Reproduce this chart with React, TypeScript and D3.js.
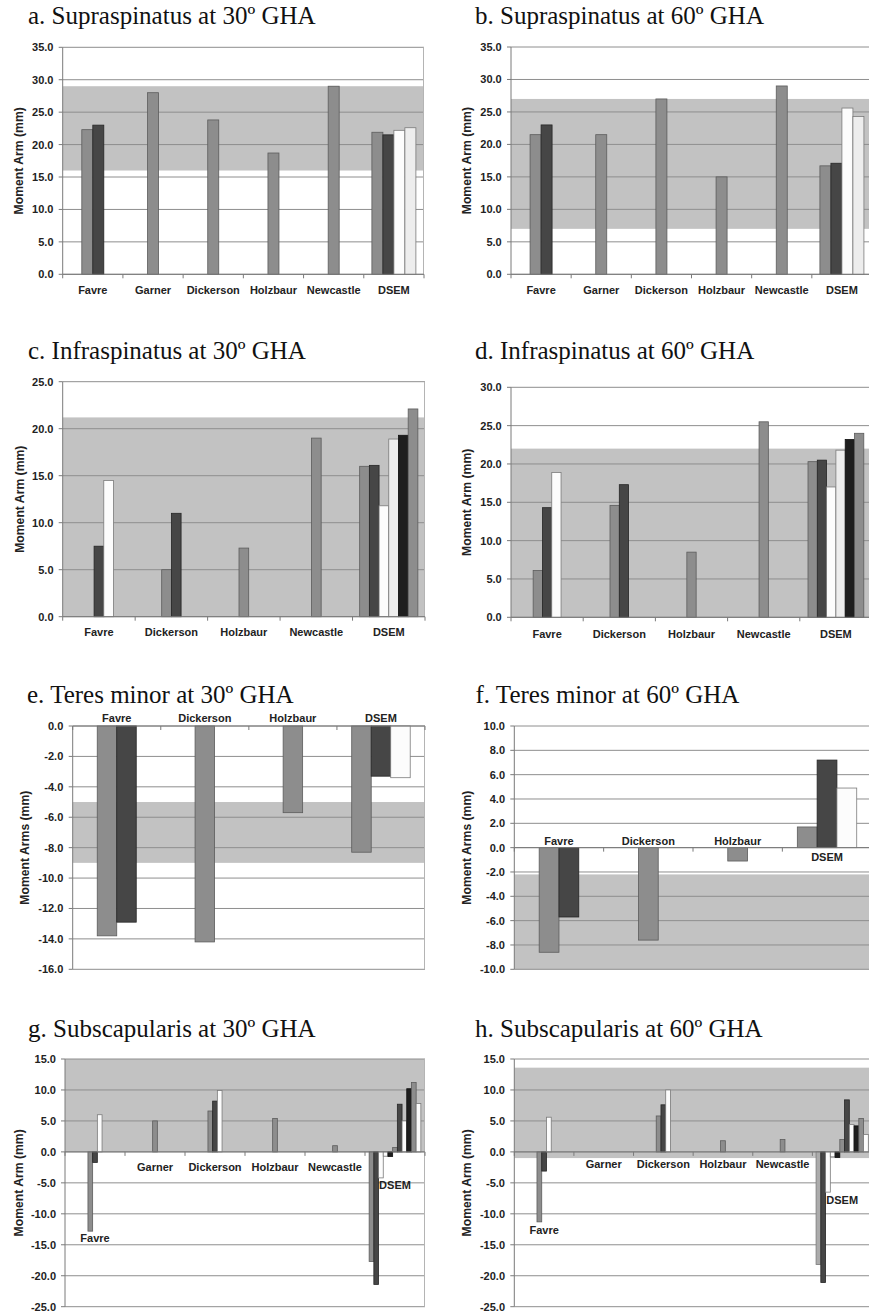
import React from "react";
import * as d3 from "d3";

const W = 869;
const H = 1314;

// ---------- data ----------
// a. Supraspinatus 30
const catsA = ["Favre", "Garner", "Dickerson", "Holzbaur", "Newcastle", "DSEM"];
const valsA: (number | null)[][] = [[22.3, 23.0], [28.0], [23.8], [18.7], [29.0], [21.9, 21.5, 22.2, 22.6]];
const keysA = [["G", "D"], ["G"], ["G"], ["G"], ["G"], ["G", "D", "W", "L"]];
const bandA = [16, 29];
const ticksA = [0, 35, 5];

// b. Supraspinatus 60
const catsB = ["Favre", "Garner", "Dickerson", "Holzbaur", "Newcastle", "DSEM"];
const valsB: (number | null)[][] = [[21.5, 23.0], [21.5], [27.0], [15.0], [29.0], [16.7, 17.1, 25.6, 24.3]];
const keysB = [["G", "D"], ["G"], ["G"], ["G"], ["G"], ["G", "D", "W", "L"]];
const bandB = [7, 27];
const ticksB = [0, 35, 5];

// c. Infraspinatus 30
const catsC = ["Favre", "Dickerson", "Holzbaur", "Newcastle", "DSEM"];
const valsC: (number | null)[][] = [[null, 7.5, 14.5], [5.0, 11.0], [7.3], [19.0], [16.0, 16.1, 11.8, 18.9, 19.3, 22.1]];
const keysC = [["G", "D", "W"], ["G", "D"], ["G"], ["G"], ["G", "D", "W", "L", "K", "G"]];
const bandC = [0, 21.2];
const ticksC = [0, 25, 5];

// d. Infraspinatus 60
const catsD = ["Favre", "Dickerson", "Holzbaur", "Newcastle", "DSEM"];
const valsD: (number | null)[][] = [[6.1, 14.3, 18.9], [14.6, 17.3], [8.5], [25.5], [20.3, 20.5, 17.0, 21.8, 23.2, 24.0]];
const keysD = [["G", "D", "W"], ["G", "D"], ["G"], ["G"], ["G", "D", "W", "L", "K", "G"]];
const bandD = [0, 22];
const ticksD = [0, 30, 5];

// e. Teres minor 30
const catsE = ["Favre", "Dickerson", "Holzbaur", "DSEM"];
const valsE: (number | null)[][] = [[-13.8, -12.9], [-14.2], [-5.7], [-8.3, -3.3, -3.4]];
const keysE = [["G", "D"], ["G"], ["G"], ["G", "D", "W"]];
const bandE = [-9, -5];
const ticksE = [-16, 0, 2];

// f. Teres minor 60
const catsF = ["Favre", "Dickerson", "Holzbaur", "DSEM"];
const valsF: (number | null)[][] = [[-8.6, -5.7], [-7.6], [-1.1], [1.7, 7.2, 4.9]];
const keysF = [["G", "D"], ["G"], ["G"], ["G", "D", "W"]];
const bandF = [-10, -2.2];
const ticksF = [-10, 10, 2];

// g. Subscapularis 30
const catsG = ["Favre", "Garner", "Dickerson", "Holzbaur", "Newcastle", "DSEM"];
const valsG: (number | null)[][] = [
  [-12.8, -1.7, 6.0],
  [5.0],
  [6.6, 8.2, 9.9],
  [5.4],
  [1.0],
  [-17.7, -21.4, -4.2, -0.7, -0.75, 0.7, 7.7, 5.0, 10.2, 11.2, 7.8],
];
const keysG = [["G", "D", "W"], ["G"], ["G", "D", "W"], ["G"], ["G"], ["G", "D", "W", "W", "K", "G", "D", "W", "K", "G", "W"]];
const bandG = [0, 15];
const ticksG = [-25, 15, 5];

// h. Subscapularis 60
const catsH = ["Favre", "Garner", "Dickerson", "Holzbaur", "Newcastle", "DSEM"];
const valsH: (number | null)[][] = [
  [-11.3, -3.1, 5.6],
  [],
  [5.8, 7.6, 10.0],
  [1.8],
  [2.0],
  [-18.2, -21.1, -6.5, -0.8, -0.9, 2.0, 8.4, 4.4, 4.2, 5.4, 2.8],
];
const keysH = [["G", "D", "W"], [], ["G", "D", "W"], ["G"], ["G"], ["P", "D", "W", "W", "K", "G", "D", "W", "K", "G", "W"]];
const bandH = [-1.0, 13.6];
const ticksH = [-25, 15, 5];

// ---------- styles ----------
const FILL: Record<string, string> = {
  G: "#8d8d8d",
  D: "#464646",
  W: "#fcfcfc",
  L: "#ededed",
  K: "#1e1e1e",
  P: "#ababab",
};
const STROKE: Record<string, string> = {
  G: "#5c5c5c",
  D: "#262626",
  W: "#7a7a7a",
  L: "#7a7a7a",
  K: "#111111",
  P: "#7a7a7a",
};

const SANS = "'Liberation Sans', Arial, Helvetica, sans-serif";
const SERIF = "'Liberation Serif', 'Times New Roman', serif";

type PanelCfg = {
  title: string;
  titleX: number;
  titleY: number;
  x0: number;
  x1: number;
  yTop: number;
  yBot: number;
  tickSpec: number[];
  band: number[];
  cats: string[];
  vals: (number | null)[][];
  keys: string[][];
  barW: number;
  yTitle: string;
  yTitleX: number;
  tickRight: number;
  labelAt: number[];
  rightBorder: boolean;
};

const panels: PanelCfg[] = [
  {
    title: "a. Supraspinatus at 30º GHA", titleX: 28, titleY: 24,
    x0: 62.7, x1: 424, yTop: 47.3, yBot: 274.3, tickSpec: ticksA, band: bandA,
    cats: catsA, vals: valsA, keys: keysA, barW: 11, yTitle: "Moment Arm (mm)",
    yTitleX: 18.5, tickRight: 53.5, labelAt: [-2.4, -2.4, -2.4, -2.4, -2.4, -2.4], rightBorder: true,
  },
  {
    title: "b. Supraspinatus at 60º GHA", titleX: 475, titleY: 24,
    x0: 511, x1: 872, yTop: 47, yBot: 274.3, tickSpec: ticksB, band: bandB,
    cats: catsB, vals: valsB, keys: keysB, barW: 11, yTitle: "Moment Arm (mm)",
    yTitleX: 466.7, tickRight: 501.7, labelAt: [-2.4, -2.4, -2.4, -2.4, -2.4, -2.4], rightBorder: true,
  },
  {
    title: "c. Infraspinatus at 30º GHA", titleX: 28, titleY: 359,
    x0: 62.7, x1: 425, yTop: 381.7, yBot: 616.7, tickSpec: ticksC, band: bandC,
    cats: catsC, vals: valsC, keys: keysC, barW: 9.7, yTitle: "Moment Arm (mm)",
    yTitleX: 19.5, tickRight: 53.5, labelAt: [-1.6, -1.6, -1.6, -1.6, -1.6], rightBorder: true,
  },
  {
    title: "d. Infraspinatus at 60º GHA", titleX: 475, titleY: 359,
    x0: 511, x1: 872, yTop: 387.3, yBot: 617.3, tickSpec: ticksD, band: bandD,
    cats: catsD, vals: valsD, keys: keysD, barW: 9.3, yTitle: "Moment Arm (mm)",
    yTitleX: 466.7, tickRight: 501.7, labelAt: [-2.2, -2.2, -2.2, -2.2, -2.2], rightBorder: true,
  },
  {
    title: "e. Teres minor at 30º GHA", titleX: 27, titleY: 702.5,
    x0: 72.7, x1: 425, yTop: 726, yBot: 969.3, tickSpec: ticksE, band: bandE,
    cats: catsE, vals: valsE, keys: keysE, barW: 19.5, yTitle: "Moment Arms (mm)",
    yTitleX: 25, tickRight: 63.3, labelAt: [0.5, 0.5, 0.5, 0.5], rightBorder: true,
  },
  {
    title: "f. Teres minor at 60º GHA", titleX: 475.5, titleY: 702.5,
    x0: 514.3, x1: 871.7, yTop: 726, yBot: 969.3, tickSpec: ticksF, band: bandF,
    cats: catsF, vals: valsF, keys: keysF, barW: 19.8, yTitle: "Moment Arms (mm)",
    yTitleX: 466.7, tickRight: 505, labelAt: [0.55, 0.55, 0.55, -0.8], rightBorder: true,
  },
  {
    title: "g. Subscapularis at 30º GHA", titleX: 28, titleY: 1036.5,
    x0: 65, x1: 425, yTop: 1059, yBot: 1306.7, tickSpec: ticksG, band: bandG,
    cats: catsG, vals: valsG, keys: keysG, barW: 4.7, yTitle: "Moment Arm (mm)",
    yTitleX: 18.5, tickRight: 56, labelAt: [-13.9, -2.4, -2.4, -2.4, -2.4, -5.4], rightBorder: true,
  },
  {
    title: "h. Subscapularis at 60º GHA", titleX: 475, titleY: 1036.5,
    x0: 514.3, x1: 872, yTop: 1059, yBot: 1306.7, tickSpec: ticksH, band: bandH,
    cats: catsH, vals: valsH, keys: keysH, barW: 4.75, yTitle: "Moment Arm (mm)",
    yTitleX: 466.7, tickRight: 505, labelAt: [-12.7, -1.95, -1.95, -1.95, -1.95, -7.7], rightBorder: true,
  },
];

function Panel({ p }: { p: PanelCfg }) {
  const [lo, hi, step] = p.tickSpec;
  const y = d3.scaleLinear().domain([lo, hi]).range([p.yBot, p.yTop]);
  const x = d3.scaleBand<string>().domain(p.cats).range([p.x0, p.x1]).padding(0);
  const bw = x.bandwidth();
  const ticks = d3.range(lo, hi + step / 2, step);
  const y0 = y(0);
  const bounds = d3.range(p.cats.length + 1).map((k) => p.x0 + k * bw);

  return (
    <g>
      <text x={p.titleX} y={p.titleY} fontFamily={SERIF} fontSize={25} fill="#111">
        {p.title}
      </text>
      {/* reference band */}
      <rect
        x={p.x0}
        width={p.x1 - p.x0}
        y={y(p.band[1])}
        height={y(p.band[0]) - y(p.band[1])}
        fill="#c2c2c2"
      />
      {/* grid */}
      {ticks.map((t) => (
        <line key={"g" + t} x1={p.x0} x2={p.x1} y1={y(t)} y2={y(t)} stroke="#8e8e8e" strokeWidth={1} />
      ))}
      {p.rightBorder && (
        <line x1={p.x1 - 0.5} x2={p.x1 - 0.5} y1={p.yTop} y2={p.yBot} stroke="#b4b4b4" strokeWidth={1} />
      )}
      {/* bars */}
      {p.vals.map((vs, i) => {
        const n = vs.length;
        const start = (x(p.cats[i]) as number) + bw / 2 - (n * p.barW) / 2;
        return vs.map((v, j) => {
          if (v === null) return null;
          const k = p.keys[i][j];
          const top = Math.min(y(v), y0);
          const h = Math.abs(y(v) - y0);
          return (
            <rect
              key={`b${i}-${j}`}
              x={start + j * p.barW}
              y={top}
              width={p.barW}
              height={h}
              fill={FILL[k]}
              stroke={STROKE[k]}
              strokeWidth={0.8}
            />
          );
        });
      })}
      {/* axes */}
      <line x1={p.x0} x2={p.x0} y1={p.yTop} y2={p.yBot} stroke="#7a7a7a" strokeWidth={1} />
      {ticks.map((t) => (
        <line key={"t" + t} x1={p.x0 - 4} x2={p.x0} y1={y(t)} y2={y(t)} stroke="#7a7a7a" strokeWidth={1} />
      ))}
      <line x1={p.x0} x2={p.x1} y1={y0} y2={y0} stroke="#7a7a7a" strokeWidth={1} />
      {bounds.map((bx, k) => (
        <line key={"c" + k} x1={bx} x2={bx} y1={y0} y2={y0 + 4} stroke="#7a7a7a" strokeWidth={1} />
      ))}
      {ticks.map((t) => (
        <text
          key={"l" + t}
          x={p.tickRight}
          y={y(t)}
          dy="0.36em"
          textAnchor="end"
          fontFamily={SANS}
          fontWeight="bold"
          fontSize={11}
          fill="#222"
        >
          {t.toFixed(1)}
        </text>
      ))}
      <text
        transform={`translate(${p.yTitleX},${(p.yTop + p.yBot) / 2}) rotate(-90)`}
        dy="0.36em"
        textAnchor="middle"
        fontFamily={SANS}
        fontWeight="bold"
        fontSize={12.2}
        fill="#222"
      >
        {p.yTitle}
      </text>
      {p.cats.map((c, i) => (
        <text
          key={"x" + c}
          x={(x(c) as number) + bw / 2}
          y={y(p.labelAt[i])}
          dy="0.36em"
          textAnchor="middle"
          fontFamily={SANS}
          fontWeight="bold"
          fontSize={11}
          fill="#222"
        >
          {c}
        </text>
      ))}
    </g>
  );
}

export default function App() {
  return (
    <svg
      width={W}
      height={H}
      viewBox={`0 0 ${W} ${H}`}
      style={{ position: "absolute", left: 0, top: 0, background: "#fff" }}
    >
      <rect x={0} y={0} width={W} height={H} fill="#fff" />
      {panels.map((p, i) => (
        <Panel key={i} p={p} />
      ))}
    </svg>
  );
}
